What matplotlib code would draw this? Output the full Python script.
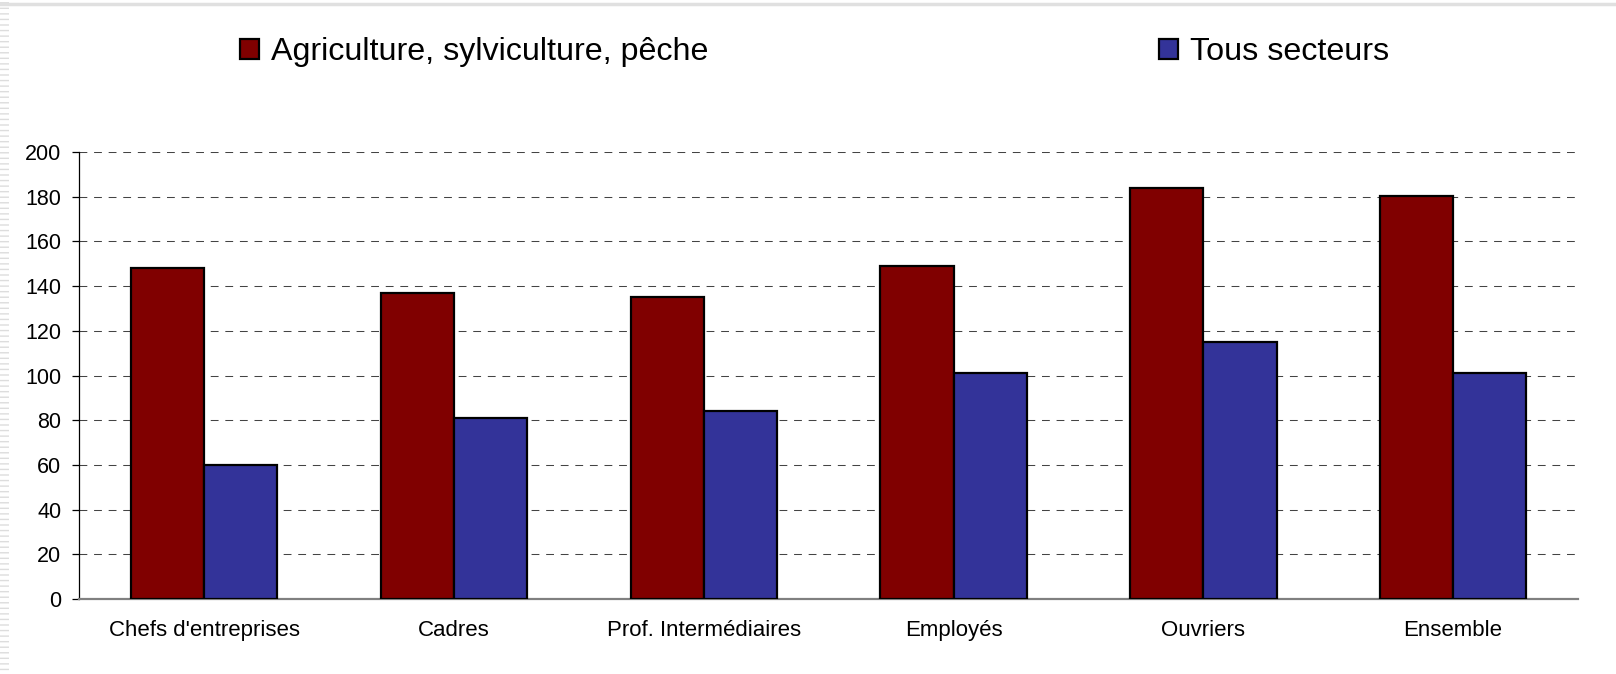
import numpy as np
import matplotlib.pyplot as plt
from matplotlib.patches import Rectangle

plt.rcParams["font.family"] = ["Liberation Sans", "DejaVu Sans"]

# data
categories = ["Chefs d'entreprises", "Cadres", "Prof. Intermédiaires",
              "Employés", "Ouvriers", "Ensemble"]
agri = [148, 137, 135, 149, 184, 180.5]
tous = [60, 81, 84, 101, 115, 101]
series_names = ["Agriculture, sylviculture, pêche", "Tous secteurs"]
y_ticks = [0, 20, 40, 60, 80, 100, 120, 140, 160, 180, 200]

RED = "#800000"
BLUE = "#333399"

W, H = 1616, 674
fig = plt.figure(figsize=(W / 100, H / 100), dpi=100)
ax = fig.add_axes([79.3 / W, 1 - 599 / H, (1578 - 79.3) / W, (599 - 152) / H])

x = np.arange(len(categories))
bw = 0.293
b1 = ax.bar(x - bw / 2, agri, bw, color=RED, edgecolor="black", linewidth=1.6,
            label=series_names[0], zorder=3)
b2 = ax.bar(x + bw / 2, tous, bw, color=BLUE, edgecolor="black", linewidth=1.6,
            label=series_names[1], zorder=3)

ax.set_xlim(-0.5, len(categories) - 0.5)
ax.set_ylim(0, 200)
ax.set_yticks(y_ticks)
ax.set_xticks(x)
ax.set_xticklabels(categories)

ax.yaxis.grid(True, color="#444444", linewidth=0.75, linestyle=(0, (7.5, 6.5)), zorder=1)
ax.set_axisbelow(True)

for s in ["top", "right"]:
    ax.spines[s].set_visible(False)
ax.spines["left"].set_color("black")
ax.spines["left"].set_linewidth(0.9)
ax.spines["bottom"].set_color("#808080")
ax.spines["bottom"].set_linewidth(1.6)

ax.tick_params(axis="y", direction="out", length=5, width=0.9, pad=8, labelsize=15.5)
ax.tick_params(axis="x", length=0, pad=15, labelsize=16)

# legend across the top
fig.legend([b1, b2], series_names, loc="center left", ncol=2,
           bbox_to_anchor=(240 / W, 1 - 52 / H), frameon=False, fontsize=23.2,
           handlelength=0.58, handleheight=0.58, handletextpad=0.38,
           columnspacing=14.0, borderaxespad=0, borderpad=0)

# faint slide border decoration
fig.patches.append(Rectangle((0, 0), 9 / W, 1, transform=fig.transFigure,
                             facecolor="white", edgecolor="#dddddd", hatch="---",
                             linewidth=0))
fig.lines.append(plt.Line2D([0, 1], [1 - 4 / H, 1 - 4 / H], transform=fig.transFigure,
                            color="#e0e0e0", linewidth=2.5))

fig.savefig("out.png", dpi=100)
